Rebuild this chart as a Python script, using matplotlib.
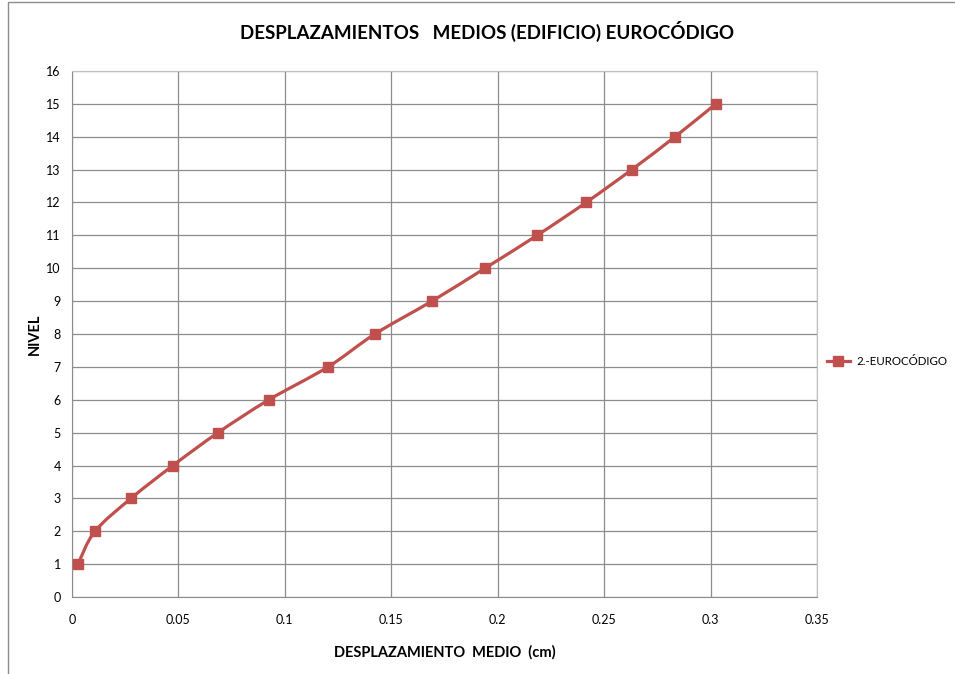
import matplotlib
matplotlib.use("Agg")
import matplotlib.pyplot as plt
from matplotlib.path import Path
from matplotlib.patches import PathPatch, Rectangle
from matplotlib.lines import Line2D
import numpy as np

plt.rcParams['font.family'] = ['Lato', 'DejaVu Sans']

# datos
desplazamiento = [0.0028, 0.0108, 0.0277, 0.0474, 0.0686, 0.0925, 0.1203, 0.1423,
                  0.1691, 0.1940, 0.2185, 0.2415, 0.2630, 0.2833, 0.3025]
nivel = [1, 2, 3, 4, 5, 6, 7, 8, 9, 10, 11, 12, 13, 14, 15]
serie = "2.-EUROCÓDIGO"
color = "#C0504D"

fig = plt.figure(figsize=(9.55, 6.74), dpi=100)
ax = fig.add_axes([0.0754, 0.1142, 0.7801, 0.7805])

# curva suavizada (tipo Excel) con segmentos Bezier
x = np.array(desplazamiento)
y = np.array(nivel, dtype=float)
verts = [(x[0], y[0])]
codes = [Path.MOVETO]
t = 1.0 / 6.0
for i in range(len(x) - 1):
    p0 = (x[i - 1], y[i - 1]) if i > 0 else (x[i], y[i])
    p1 = (x[i], y[i])
    p2 = (x[i + 1], y[i + 1])
    p3 = (x[i + 2], y[i + 2]) if i + 2 < len(x) else p2
    c1 = (p1[0] + (p2[0] - p0[0]) * t, p1[1] + (p2[1] - p0[1]) * t)
    c2 = (p2[0] - (p3[0] - p1[0]) * t, p2[1] - (p3[1] - p1[1]) * t)
    verts += [c1, c2, p2]
    codes += [Path.CURVE4] * 3
ax.add_patch(PathPatch(Path(verts, codes), facecolor='none', edgecolor=color,
                       lw=2.3, zorder=3))
ax.plot(desplazamiento, nivel, linestyle='none', marker='s', markersize=7.5,
        color=color, zorder=4)

ax.set_xlim(0, 0.35)
ax.set_ylim(0, 16)
ax.set_xticks(np.arange(0, 0.351, 0.05))
ax.set_xticklabels(['0', '0.05', '0.1', '0.15', '0.2', '0.25', '0.3', '0.35'])
ax.set_yticks(range(0, 17))
ax.grid(True, color='#8c8c8c', lw=0.9)
ax.set_axisbelow(True)
ax.tick_params(length=0, labelsize=9, pad=12)
ax.tick_params(axis='y', pad=8)
for s in ['left', 'bottom']:
    ax.spines[s].set_color('#8c8c8c')
for s in ['top', 'right']:
    ax.spines[s].set_color('#bfbfbf')

ax.set_xlabel('DESPLAZAMIENTO  MEDIO  (cm)', fontsize=10.5, fontweight='bold', labelpad=14)
ax.set_ylabel('NIVEL', fontsize=10.5, fontweight='bold', labelpad=3)

fig.text(0.510, 0.954, 'DESPLAZAMIENTOS   MEDIOS (EDIFICIO) EUROCÓDIGO',
         ha='center', va='center', fontsize=13.5, fontweight='bold')

handle = Line2D([], [], color=color, lw=2.3, marker='s', markersize=7.5)
fig.legend([handle], [serie], loc='center left', bbox_to_anchor=(0.861, 0.463),
           frameon=False, fontsize=8.3, handlelength=2.0, handletextpad=0.55,
           borderpad=0.2, borderaxespad=0.2)

# borde del area del grafico
fig.patches.append(Rectangle((8 / 955, -0.1), 1.2, 1.1 - 2 / 674, transform=fig.transFigure,
                             fill=False, edgecolor='#8c8c8c', lw=1))

fig.savefig('out.png', dpi=100)
